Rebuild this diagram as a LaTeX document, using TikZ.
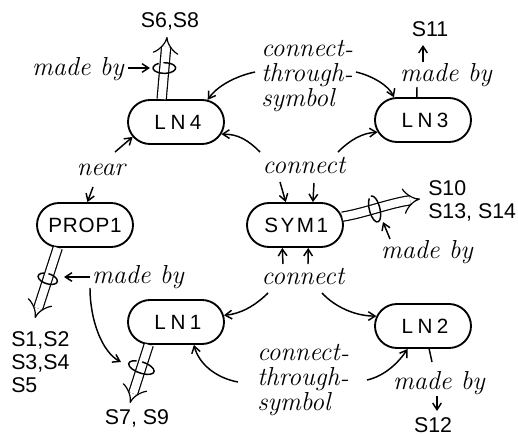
\documentclass[tikz,border=0pt]{standalone}
\usepackage{fontspec}
\newfontfamily\capsfont{Liberation Sans}
\newfontfamily\boxfont{Liberation Sans}
\usetikzlibrary{arrows.meta,shapes.misc,calc}

% small loop drawn round a hollow arrow's shaft: centre, rotation, radii (pt)
\newcommand\drawcurl[4]{%
  \draw[plain, shift={(#1)}, rotate=#2, x=1pt, y=1pt]
    (120:#3 and #4) arc[start angle=120, end angle=455, x radius=#3, y radius=#4];}

\newcommand\lowdash{\raisebox{-0.1ex}{-}}

\tikzset{
  box/.style={draw, rounded rectangle, minimum width=72pt, minimum height=33pt,
    line width=1.4pt, inner sep=0pt, font=\boxfont\fontsize{15.5}{15.5}\selectfont},
  lab/.style={inner sep=0pt, align=left, font=\itshape\fontsize{19.5}{19}\selectfont},
  slab/.style={inner sep=0pt, align=left, font=\capsfont\fontsize{16}{17.25}\selectfont},
  plain/.style={line width=1.1pt},
  arr/.style={plain, -{Straight Barb[length=5pt,width=6.5pt]}},
  hollow/.style={double, double distance=6pt, line width=0.9pt, -{Implies[scale=1.25]}},
}

\begin{document}
\begin{tikzpicture}[x=0.75pt, y=-0.75pt]
\fill[white] (0,0) rectangle (518,436);
\useasboundingbox (0,0) rectangle (518,436);

% objects
\node[box] (LN4)   at (176,122) {\hspace{3pt}\addfontfeature{LetterSpace=22}LN4};
\node[box] (LN3)   at (423,120) {\hspace{3pt}\addfontfeature{LetterSpace=22}LN3};
\node[box] (PROP1) at (85,225)  {\addfontfeature{LetterSpace=4}PROP1};
\node[box] (SYM1)  at (295,225) {\hspace{2pt}\addfontfeature{LetterSpace=12}SYM1};
\node[box] (LN1)   at (176,322) {\hspace{3pt}\addfontfeature{LetterSpace=22}LN1};
\node[box] (LN2)   at (423,326) {\hspace{3pt}\addfontfeature{LetterSpace=22}LN2};

% relation labels
\node[lab] (ctsTop)  [anchor=west] at (261,76) {connect\lowdash\\through\lowdash\\symbol};
\node[lab] (connTop) at (304,166) {connect};
\node[lab] (connBot) at (303,277) {connect};
\node[lab] (ctsBot)  [anchor=west] at (257,380) {connect\lowdash\\through\lowdash\\symbol};
\node[lab] (near)    at (101,170) {near};
\node[lab] (mb4)     at (78,69)   {made by};
\node[lab] (mb3)     at (446,75)  {made by};
\node[lab] (mbS)     at (427,252) {made by};
\node[lab] (mbP)     at (138,277) {made by};
\node[lab] (mb2)     at (439,383) {made by};

% stroke sets
\node[slab] (S68)   at (170,21)  {S6,S8};
\node[slab] (S11)   at (430,29)  {S11};
\node[slab] (S10)   [anchor=west] at (428,201) {S10\\S13, S14};
\node[slab] (Slist) [anchor=west] at (11,362)  {S1,S2\\S3,S4\\S5};
\node[slab] (S79)   at (137,418) {S7, S9};
\node[slab] (S12)   at (433,425) {S12};

% free ends of the connectors
\coordinate (a1) at (255,72);  \coordinate (a2) at (356,72);
\coordinate (a3) at (260,152); \coordinate (a4) at (338,152);
\coordinate (a5) at (280,182); \coordinate (a6) at (314,183);
\coordinate (a7) at (283,264); \coordinate (a8) at (308,264);
\coordinate (a9) at (268,293); \coordinate (a10) at (322,293);
\coordinate (a11) at (238,382); \coordinate (a12) at (367,380);
\coordinate (a13) at (115,152); \coordinate (a14) at (93,187);
\coordinate (t3a) at (417,87);  \coordinate (s11a) at (423,62); \coordinate (s11b) at (423,45);
\coordinate (t2a) at (432,362); \coordinate (s12a) at (437,396); \coordinate (s12b) at (437,411);
\coordinate (m4a) at (128,68);  \coordinate (m4b) at (150,68);
\coordinate (mPa) at (90,277);  \coordinate (mPb) at (64,277);
\coordinate (mPc) at (90,288);  \coordinate (mPd) at (121,362);
\coordinate (mSa) at (390,239); \coordinate (mSb) at (383,222);
\coordinate (tipA) at (167,37);  \coordinate (tipB) at (420,199);
\coordinate (tipC) at (35,318);  \coordinate (tipD) at (130,403);

% connect-through-symbol (top)
\draw[arr] (a1) .. controls (236,76) and (217,86) .. (LN4.35);
\draw[arr] (a2) .. controls (373,76) and (389,86) .. (LN3.142);
% connect (top)
\draw[arr] (a3) .. controls (248,140) and (238,134) .. (LN4.-15);
\draw[arr] (a4) .. controls (350,140) and (362,133) .. (LN3.195);
\draw[arr] (a5) -- (SYM1.112);
\draw[arr] (a6) -- (SYM1.52);
% connect (bottom)
\draw[arr] (a7) -- (SYM1.241);
\draw[arr] (a8) -- (SYM1.300);
\draw[arr] (a9) .. controls (255,306) and (240,314) .. (LN1.8);
\draw[arr] (a10) .. controls (335,307) and (355,316) .. (LN2.168);
% connect-through-symbol (bottom)
\draw[arr] (a11) .. controls (216,378) and (199,364) .. (LN1.308);
\draw[arr] (a12) .. controls (385,376) and (399,362) .. (LN2.236);
% near
\draw[arr] (a13) -- (LN4.199);
\draw[arr] (a14) -- (PROP1.84);
% made by, LN3 and LN2
\draw[plain] (LN3.105) -- (t3a);
\draw[arr] (s11a) -- (s11b);
\draw[plain] (LN2.285) -- (t2a);
\draw[arr] (s12a) -- (s12b);

% hollow arrows to the stroke sets
\draw[hollow] (LN4.122) -- coordinate[pos=0.5] (curlA) (tipA);
\draw[hollow] (SYM1.10) .. controls (365,213) and (390,203) .. coordinate[pos=0.45] (curlB) (tipB);
\draw[hollow] (PROP1.220) -- coordinate[pos=0.44] (curlC) (tipC);
\draw[hollow] (LN1.220) -- coordinate[pos=0.39] (curlD) (tipD);

\drawcurl{curlA}{0}{8.5}{4}
\drawcurl{curlB}{14}{4}{10}
\drawcurl{curlC}{-18}{7.5}{3.8}
\drawcurl{curlD}{-19}{10}{4.2}

% made by pointers
\draw[arr] (m4a) -- (m4b);
\draw[arr] (mPa) -- (mPb);
\draw[arr] (mPc) .. controls (90,320) and (102,352) .. (mPd);
\draw[arr] (mSa) -- (mSb);
\end{tikzpicture}
\end{document}
